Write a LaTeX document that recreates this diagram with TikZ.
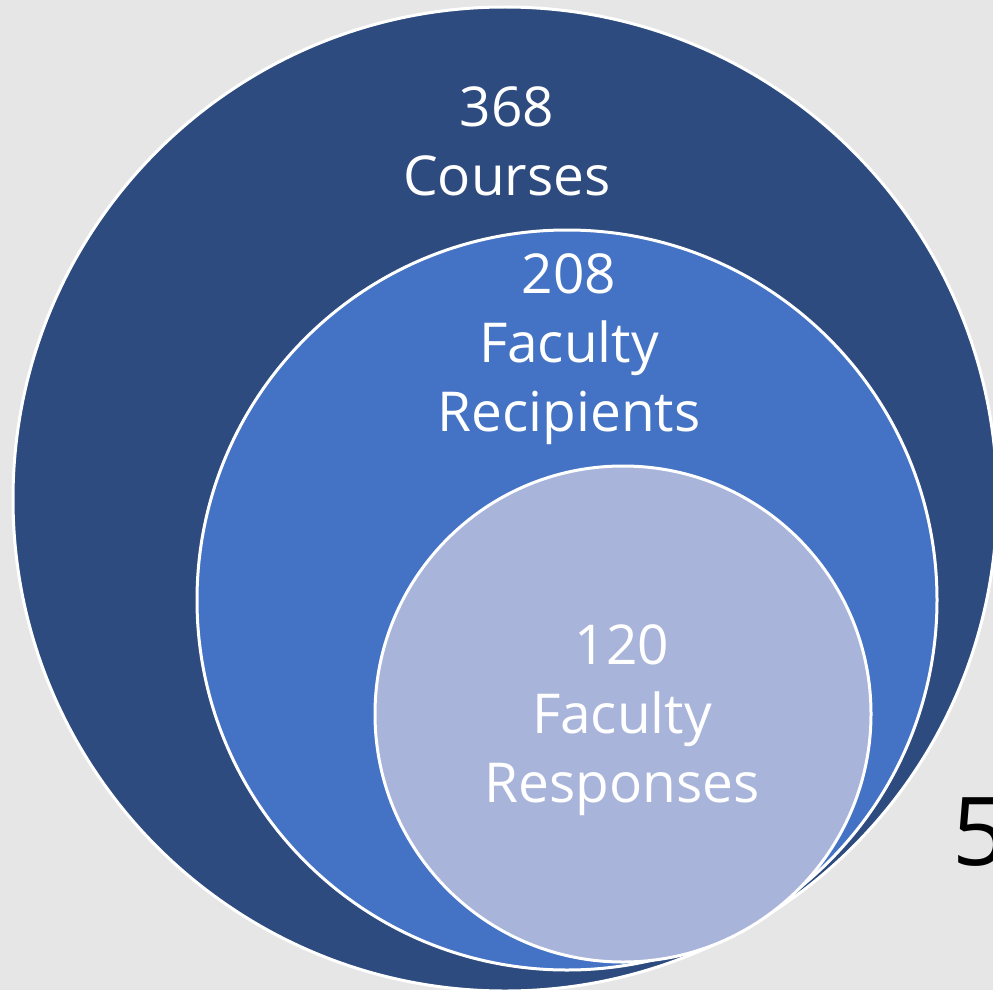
\documentclass[tikz,border=0pt]{standalone}
\usepackage{fontspec}
\setmainfont{Open Sans}
\definecolor{bgg}{HTML}{E6E6E6}
\definecolor{outerblue}{HTML}{2D4B7E}
\definecolor{midblue}{HTML}{4472C4}
\definecolor{innerblue}{HTML}{A8B4DA}
\begin{document}
\begin{tikzpicture}[x=1pt,y=-1pt,
  ring/.style={draw=white,line width=3pt},
  lbl/.style={text=white,align=center,font=\fontsize{55}{69}\selectfont,inner sep=0pt}]
\useasboundingbox (0,0) rectangle (993,990);
\fill[bgg] (0,0) rectangle (993,990);
\clip (0,0) rectangle (993,990);
\fill[outerblue,ring] (505,499) circle[radius=492];
\fill[midblue,ring] (567,600) circle[radius=370];
\fill[innerblue,ring] (623,714) circle[radius=248];
\node[lbl] (courses) at (507,141) {368\\Courses};
\node[lbl] (recip) at (569,349) {208\\Faculty\\Recipients};
\node[lbl] (resp) at (622,720) {120\\Faculty\\Responses};
\node[anchor=base west,inner sep=0pt,font=\fontsize{95}{95}\selectfont,text=black] (five) at (952,865) {5};
\end{tikzpicture}
\end{document}
